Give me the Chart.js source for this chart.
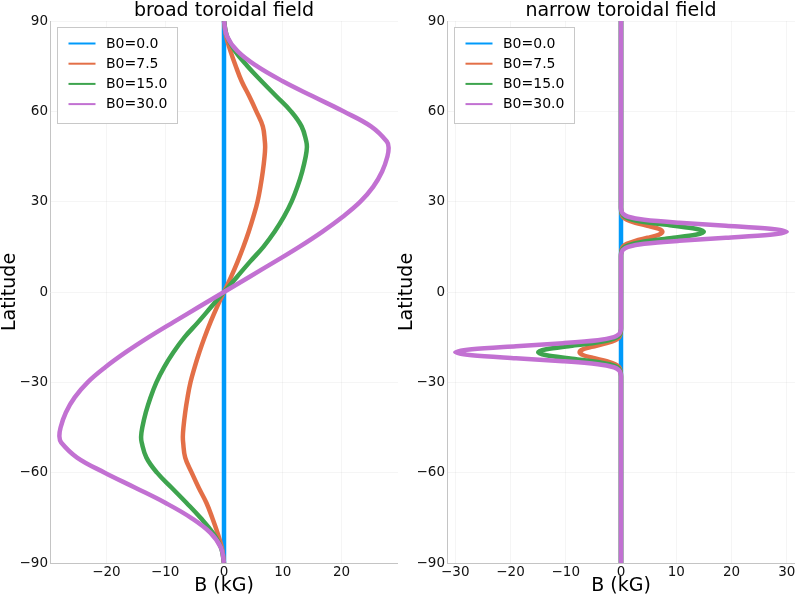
<!DOCTYPE html>
<html><head><meta charset="utf-8">
<script src="https://cdn.jsdelivr.net/npm/chart.js@4.4.1/dist/chart.umd.min.js"></script>
<style>
html,body{margin:0;padding:0;background:#fff;width:796px;height:597px;overflow:hidden;}
canvas{position:absolute;top:0;}
#c1{left:0;} #c2{left:397px;}
</style></head><body>
<canvas id="c1" width="398" height="597"></canvas>
<canvas id="c2" width="398" height="597"></canvas>
<script>
const seriesLabels = ['B0=0.0', 'B0=7.5', 'B0=15.0', 'B0=30.0'];
const seriesColors = ['#009AFA', '#E36F47', '#3EA44E', '#C271D2'];
const titles = ['broad toroidal field', 'narrow toroidal field'];
const xLabel = 'B (kG)';
const yLabel = 'Latitude';
const latTicks = [-90, -60, -30, 0, 30, 60, 90];
const broadXTicks = [-20, -10, 0, 10, 20];
const narrowXTicks = [-30, -20, -10, 0, 10, 20, 30];
const broadLimit = 29.6;
const narrowLimit = 31.5;

// B0 = 0 : zero everywhere
const latZero = [-90, 90];
const bZero = [0, 0];

// broad toroidal field
const latBroad = [-90,-85,-80,-75,-70,-65,-60,-55,-50,-48,-45,-40,-35,-30,-25,-20,-15,-10,-5,0,
                  5,10,15,20,25,30,35,40,45,48,50,55,60,65,70,75,80,85,90];
const broadB7 = [0,-0.35,-1.1,-2.0,-3.0,-4.3,-5.5,-6.6,-6.95,-7.0,-6.9,-6.6,-6.2,-5.7,-5.0,-4.2,-3.3,-2.3,-1.2,0,
                 1.2,2.3,3.3,4.2,5.0,5.7,6.2,6.6,6.9,7.0,6.95,6.6,5.5,4.3,3.0,2.0,1.1,0.35,0];
const broadB15 = [0,-0.5,-1.9,-4.0,-6.4,-8.9,-11.4,-13.2,-14.0,-14.1,-13.9,-13.3,-12.5,-11.5,-10.2,-8.6,-6.7,-4.4,-2.2,0,
                  2.2,4.4,6.7,8.6,10.2,11.5,12.5,13.3,13.9,14.1,14.0,13.2,11.4,8.9,6.4,4.0,1.9,0.5,0];
const broadB30 = [0,-0.5,-2.3,-5.6,-10.0,-15.1,-20.3,-25.0,-27.7,-28.0,-27.8,-26.9,-25.4,-23.2,-20.2,-16.7,-12.8,-8.6,-4.3,0,
                  4.3,8.6,12.8,16.7,20.2,23.2,25.4,26.9,27.8,28.0,27.7,25.0,20.3,15.1,10.0,5.6,2.3,0.5,0];

// narrow toroidal field
const latNarrow = [-90,-29,-28,-27,-26,-25,-24,-23,-22,-21,-20,-19,-18,-17,-16,-15,-14,-13,-12,
                   12,13,14,15,16,17,18,19,20,21,22,23,24,25,26,27,28,29,90];
const narrowB7 = [0,0,0,-0.02,-0.1,-0.33,-1.05,-2.6,-4.8,-6.8,-7.5,-6.8,-4.8,-2.6,-1.05,-0.33,-0.1,-0.02,0,
                  0,0.02,0.1,0.33,1.05,2.6,4.8,6.8,7.5,6.8,4.8,2.6,1.05,0.33,0.1,0.02,0,0,0];
const narrowB15 = [0,0,0,-0.04,-0.18,-0.65,-2.1,-5.2,-9.5,-13.5,-15.0,-13.5,-9.5,-5.2,-2.1,-0.65,-0.18,-0.04,0,
                   0,0.04,0.18,0.65,2.1,5.2,9.5,13.5,15.0,13.5,9.5,5.2,2.1,0.65,0.18,0.04,0,0,0];
const narrowB30 = [0,0,0,-0.08,-0.35,-1.3,-4.2,-10.5,-19.0,-27.0,-30.0,-27.0,-19.0,-10.5,-4.2,-1.3,-0.35,-0.08,0,
                   0,0.08,0.35,1.3,4.2,10.5,19.0,27.0,30.0,27.0,19.0,10.5,4.2,1.3,0.35,0.08,0,0,0];

function toPoints(lats, vals) { return lats.map((y, i) => ({x: vals[i], y: y})); }
function fmt(v) { return v < 0 ? '\u2212' + Math.abs(v) : String(v); }

const FONT = '"DejaVu Sans", "Liberation Sans", sans-serif';

function overlay(title) {
  return {
    id: 'overlay',
    afterDraw(chart) {
      const ctx = chart.ctx, a = chart.chartArea;
      const cx = (a.left + a.right) / 2;
      ctx.save();
      ctx.fillStyle = '#000';
      ctx.font = '19px ' + FONT;
      ctx.textAlign = 'center';
      ctx.textBaseline = 'alphabetic';
      ctx.fillText(title, cx, 16);
      ctx.fillText(xLabel, cx, 591);
      ctx.save();
      ctx.translate(15, (a.top + a.bottom) / 2);
      ctx.rotate(-Math.PI / 2);
      ctx.fillText(yLabel, 0, 0);
      ctx.restore();
      // legend
      const lx = a.left + 7, ly = a.top + 6, lw = 120, lh = 96;
      ctx.fillStyle = '#fff';
      ctx.fillRect(lx, ly, lw, lh);
      ctx.strokeStyle = '#c8c8c8';
      ctx.lineWidth = 1;
      ctx.strokeRect(lx + 0.5, ly + 0.5, lw, lh);
      ctx.font = '14px ' + FONT;
      ctx.textAlign = 'left';
      ctx.textBaseline = 'middle';
      chart.data.datasets.forEach((ds, i) => {
        const yy = ly + 16.5 + i * 20.2;
        ctx.strokeStyle = ds.borderColor;
        ctx.lineWidth = 2;
        ctx.beginPath();
        ctx.moveTo(lx + 11.5, yy);
        ctx.lineTo(lx + 38.5, yy);
        ctx.stroke();
        ctx.fillStyle = '#000';
        ctx.fillText(ds.label, lx + 49, yy + 0.5);
      });
      ctx.restore();
    }
  };
}

function makeChart(id, title, sets, limit, xTicks, tension) {
  const datasets = sets.map((s, i) => ({
    label: seriesLabels[i],
    data: toPoints(s[0], s[1]),
    borderColor: seriesColors[i],
    backgroundColor: seriesColors[i],
    borderWidth: 4.5,
    showLine: true,
    pointRadius: 0,
    tension: tension,
    order: sets.length - i,
    fill: false
  }));
  return new Chart(document.getElementById(id), {
    type: 'scatter',
    data: {datasets},
    options: {
      responsive: false,
      animation: false,
      events: [],
      layout: {padding: {top: 21, left: 0, right: 0, bottom: 0}},
      plugins: {legend: {display: false}, tooltip: {enabled: false}, title: {display: false}},
      scales: {
        x: {
          type: 'linear', min: -limit, max: limit,
          afterBuildTicks: s => { s.ticks = xTicks.map(v => ({value: v})); },
          afterFit: s => { s.height = 34; s.paddingLeft = 0; s.paddingRight = 0; },
          grid: {color: 'rgba(0,0,0,0.04)', drawTicks: false},
          border: {display: true, color: '#c4c4c4', width: 1},
          ticks: {padding: 1, color: '#111', font: {family: FONT, size: 13.5}, maxRotation: 0, autoSkip: false, callback: v => fmt(v)}
        },
        y: {
          type: 'linear', min: -90, max: 90,
          afterBuildTicks: s => { s.ticks = latTicks.map(v => ({value: v})); },
          afterFit: s => { s.width = 50; s.paddingTop = 0; s.paddingBottom = 0; },
          grid: {color: 'rgba(0,0,0,0.04)', drawTicks: false},
          border: {display: true, color: '#c4c4c4', width: 1},
          ticks: {padding: 2, color: '#111', font: {family: FONT, size: 13.5}, autoSkip: false, callback: v => fmt(v)}
        }
      }
    },
    plugins: [overlay(title)]
  });
}

makeChart('c1', titles[0], [[latZero, bZero], [latBroad, broadB7], [latBroad, broadB15], [latBroad, broadB30]], broadLimit, broadXTicks, 0.4);
makeChart('c2', titles[1], [[latZero, bZero], [latNarrow, narrowB7], [latNarrow, narrowB15], [latNarrow, narrowB30]], narrowLimit, narrowXTicks, 0.3);
</script>
</body></html>
